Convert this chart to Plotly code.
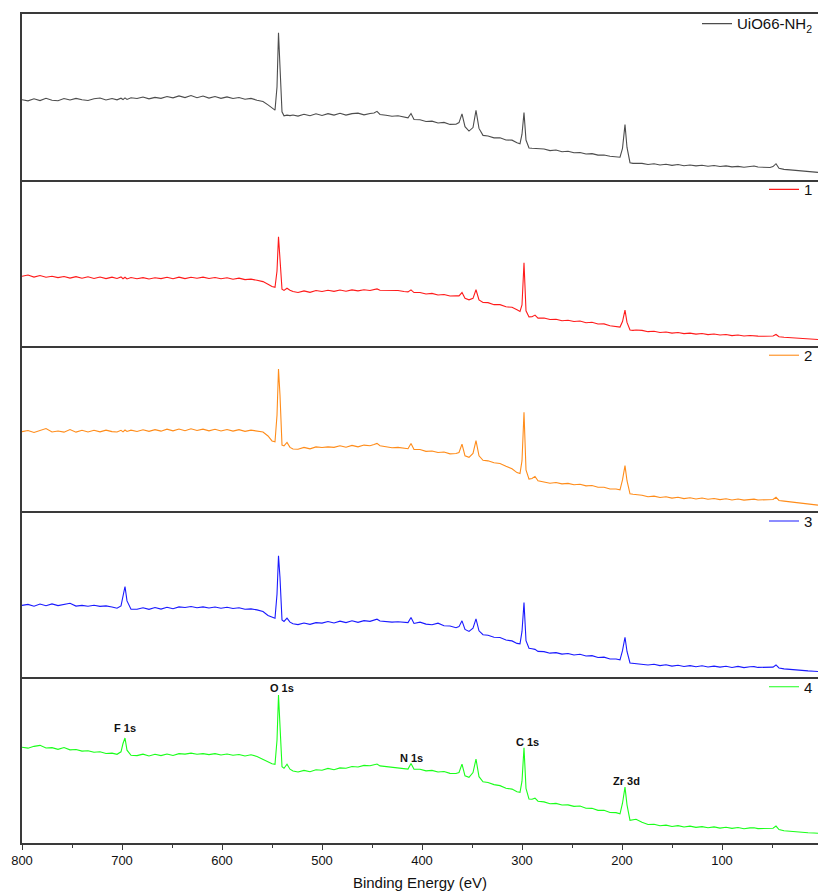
import plotly.graph_objects as go
from plotly.subplots import make_subplots

# Binding energy grid (eV), shared by all survey spectra
energy = [
    800, 794, 788, 782, 776, 770, 764, 758, 752, 746, 740, 734, 728, 722, 716, 710,
    705, 701, 699, 697, 695, 691,
    685, 679, 673, 667, 661, 655, 649, 643, 637, 631, 625, 619, 613, 607, 601, 595,
    589, 583, 577, 571, 565, 559,
    554, 550, 547, 545, 543.5, 542, 540, 538, 535, 532, 529,
    524, 518, 512, 506, 500, 494, 488, 482, 476, 470, 464, 458, 452,
    448, 445, 442,
    436, 430, 424, 418,
    414, 411, 408,
    402, 396, 390, 384, 378, 372, 366,
    363, 360, 357, 353, 349, 346, 343, 339,
    334, 328, 322, 316, 310, 305,
    302, 300, 298, 296, 293, 290, 287, 284,
    278, 272, 266, 260, 254, 248, 242, 236, 230, 224, 218, 212, 206,
    202, 199.5, 197, 195, 192, 189, 186,
    180, 174, 168, 162, 156, 150, 144, 138, 132, 126, 120, 114, 108, 102, 96, 90, 84, 78, 72,
    68, 64,
    58, 52, 49, 46, 43,
    38, 32, 26, 20, 14, 8, 4,
]

# Intensities (a.u., each spectrum on its own 0-100 scale)
uio66_nh2 = [
    48.3, 47.6, 48.9, 47.8, 49.2, 48.0, 47.7, 49.0, 48.1, 49.1, 48.3, 47.8, 48.9, 49.3, 48.1, 49.0,
    48.2, 49.2, 48.4, 49.4, 48.5, 49.5,
    49.0, 49.9, 48.8, 49.7, 49.1, 50.2, 49.4, 50.6, 49.6, 50.8, 49.5, 50.5, 49.3, 50.2, 49.1, 50.0,
    49.0, 49.6, 48.6, 49.1, 48.0, 47.2,
    45.2, 43.2, 42.0, 56.0, 88.7, 68.0, 41.0, 38.6, 39.0, 38.7, 39.1,
    38.4, 39.5, 38.6, 39.8, 38.8, 39.9, 39.0, 40.1, 39.0, 39.9, 40.2, 39.2, 40.0,
    40.3, 41.3, 39.4,
    38.9, 38.3, 38.6, 37.6,
    37.4, 40.0, 36.4,
    36.2, 35.2, 35.4, 34.3, 34.6, 33.4, 33.5,
    34.5, 39.8, 32.0, 29.4, 31.5, 41.9, 31.0, 26.8,
    26.4, 25.3, 25.3, 24.0, 23.9, 22.4,
    21.8, 27.5, 40.5, 24.0, 19.2, 19.0, 18.9, 18.5,
    18.6, 17.6, 18.0, 16.9, 17.2, 16.3, 16.5, 15.6, 15.8, 14.9, 15.0, 14.2, 13.9,
    13.6, 19.0, 33.3, 19.5, 10.3, 9.9, 9.8,
    9.9, 9.2, 9.7, 8.9, 9.4, 8.7, 9.2, 8.5, 8.9, 8.4, 8.8, 8.2, 8.6, 8.0, 8.4, 7.8, 8.1, 7.6, 7.9,
    8.3, 7.7,
    7.6, 7.4, 8.0, 9.7, 7.0,
    6.3, 6.0, 5.6, 5.3, 5.0, 4.8, 4.5,
]

sample_1 = [
    41.8, 42.6, 41.3, 42.3, 41.2, 41.8, 41.0, 41.7, 40.7, 41.6, 40.6, 41.5, 40.5, 41.4, 40.4, 41.3,
    40.5, 41.4, 40.3, 41.2, 40.2, 41.1,
    40.3, 41.0, 40.2, 40.9, 40.4, 41.2, 40.3, 41.3, 40.4, 41.2, 40.6, 41.3, 40.5, 41.1, 40.3, 40.9,
    40.0, 40.7, 39.8, 40.1, 39.4, 38.6,
    37.0, 35.6, 35.1, 45.0, 65.7, 52.0, 34.0, 33.3, 34.6, 33.4, 32.6,
    32.0, 33.0, 32.1, 33.2, 32.6, 33.4, 32.7, 33.5, 32.8, 33.6, 33.0, 33.7, 33.2,
    33.8, 34.2, 33.4,
    33.3, 32.9, 33.2, 32.6,
    32.4, 33.6, 32.0,
    32.0, 31.1, 31.5, 30.5, 30.8, 29.9, 30.0,
    30.0, 32.0, 28.5, 27.6, 28.5, 33.7, 27.5, 26.0,
    25.9, 24.7, 24.7, 23.4, 23.1, 21.6,
    20.6, 24.5, 50.0, 21.0, 17.3, 17.4, 18.4, 16.6,
    16.6, 15.7, 15.9, 15.0, 15.3, 14.5, 14.8, 13.8, 14.1, 13.0, 13.1, 12.0, 11.6,
    11.2, 14.5, 21.4, 14.0, 9.4, 9.2, 9.4,
    9.2, 8.4, 8.7, 7.9, 8.2, 7.5, 7.9, 7.2, 7.5, 6.9, 7.3, 6.6, 7.0, 6.4, 6.7, 6.0, 6.4, 5.8, 6.1,
    6.1, 5.7,
    5.6, 5.5, 5.8, 6.7, 5.3,
    5.0, 4.7, 4.4, 4.2, 4.0, 3.8, 3.7,
]

sample_2 = [
    48.1, 48.8, 47.6, 48.9, 50.0, 47.9, 48.5, 47.8, 49.4, 47.8, 48.9, 47.9, 48.9, 48.0, 49.0, 48.1,
    47.9, 48.9, 48.0, 49.1, 48.2, 49.0,
    48.2, 49.2, 48.3, 49.3, 48.4, 49.6, 48.6, 49.7, 48.7, 49.8, 48.8, 49.6, 48.6, 49.5, 48.5, 49.4,
    48.4, 49.3, 48.3, 49.0, 48.4, 47.9,
    45.5, 42.5, 42.0, 58.0, 85.9, 70.0, 40.0, 39.5, 41.6, 38.6, 37.6,
    37.5, 38.6, 37.7, 38.9, 38.5, 38.9, 38.6, 39.6, 38.7, 39.8, 38.9, 40.0, 39.6,
    40.3, 41.0, 39.6,
    39.0, 38.4, 38.6, 38.0,
    37.8, 41.0, 37.4,
    37.3, 36.2, 36.4, 35.5, 35.8, 34.7, 34.9,
    35.5, 40.6, 33.5, 32.6, 35.0, 42.7, 33.5, 30.8,
    30.5, 29.3, 28.9, 27.2, 25.7, 23.4,
    22.8, 30.6, 59.8, 25.0, 19.5, 19.8, 21.1, 18.5,
    17.9, 17.0, 17.4, 16.6, 16.9, 16.1, 16.4, 15.4, 15.6, 14.6, 14.6, 13.5, 13.5,
    13.0, 19.0, 27.6, 18.5, 10.6, 10.3, 10.1,
    9.7, 8.8, 9.2, 8.4, 8.8, 8.0, 8.5, 7.7, 8.2, 7.5, 8.1, 7.3, 7.8, 7.1, 7.6, 6.9, 7.5, 6.8, 7.2,
    7.4, 6.9,
    6.9, 6.8, 7.2, 8.5, 6.6,
    6.2, 5.7, 5.2, 4.8, 4.4, 4.0, 3.8,
]

sample_3 = [
    43.3, 43.9, 42.8, 44.1, 43.1, 44.2, 43.2, 44.0, 44.6, 42.9, 43.3, 42.8, 43.4, 42.7, 43.0, 42.3,
    41.6, 43.0, 49.0, 54.7, 46.0, 41.0,
    41.0, 41.9, 40.9, 42.0, 41.1, 42.2, 41.3, 42.4, 42.0, 42.6, 41.9, 42.4, 41.7, 42.3, 41.6, 42.2,
    41.4, 41.9, 41.0, 41.2, 40.6, 39.6,
    37.2, 36.0, 35.6, 50.0, 73.2, 60.0, 34.5, 33.6, 35.6, 33.2, 32.2,
    31.7, 32.7, 31.9, 32.9, 32.6, 33.6, 32.7, 33.8, 32.9, 34.0, 33.1, 34.1, 33.7,
    34.3, 35.0, 33.9,
    33.6, 33.2, 33.4, 33.0,
    32.9, 36.0, 32.4,
    33.2, 32.0, 31.6, 32.6, 31.0, 30.9, 29.8,
    30.5, 34.0, 28.8, 27.6, 29.5, 35.2, 28.0, 25.6,
    25.3, 24.1, 23.9, 22.4, 21.9, 20.4,
    20.1, 27.6, 45.1, 22.0, 17.5, 17.2, 16.8, 15.6,
    15.4, 14.5, 14.8, 13.9, 14.3, 13.4, 13.8, 12.8, 13.0, 11.9, 12.1, 11.0, 11.0,
    10.5, 16.0, 24.1, 15.5, 8.6, 8.4, 8.2,
    8.2, 7.4, 7.8, 7.0, 7.5, 6.7, 7.2, 6.5, 7.0, 6.3, 6.9, 6.2, 6.7, 6.1, 6.6, 5.9, 6.5, 5.8, 6.3,
    6.4, 5.9,
    5.9, 5.8, 6.1, 7.4, 5.6,
    5.0, 4.6, 4.3, 4.0, 3.8, 3.6, 3.4,
]

sample_4 = [
    57.8, 57.2, 58.3, 58.9, 57.3, 57.5, 56.5, 57.6, 56.2, 56.4, 55.4, 55.6, 54.7, 55.0, 54.0, 54.2,
    53.5, 55.0, 60.0, 63.3, 56.0, 52.9,
    52.7, 53.6, 52.5, 53.5, 52.7, 53.7, 52.8, 53.9, 53.6, 54.2, 53.5, 53.9, 53.3, 53.9, 53.1, 53.7,
    52.9, 53.4, 52.5, 53.2, 52.2, 50.5,
    49.0, 47.8, 47.5, 62.0, 89.2, 72.0, 46.0, 45.1, 47.5, 44.5, 43.4,
    42.8, 43.8, 43.0, 44.2, 43.9, 45.0, 44.2, 45.3, 45.1, 46.1, 45.8, 46.8, 46.6,
    47.2, 47.6, 46.5,
    46.1, 45.6, 45.3, 44.7,
    44.6, 48.0, 44.5,
    44.5, 43.5, 43.8, 42.8, 43.1, 42.0, 41.9,
    42.5, 47.6, 40.5, 39.6, 42.5, 50.6, 40.0, 36.9,
    36.5, 35.2, 34.6, 33.0, 32.5, 30.9,
    30.6, 37.3, 57.5, 33.0, 26.5, 26.4, 27.0, 25.2,
    24.8, 23.7, 23.9, 22.9, 23.0, 22.1, 22.3, 21.0, 20.9, 19.7, 19.7, 18.4, 18.3,
    17.6, 24.0, 33.7, 23.0, 13.7, 14.0, 14.3,
    12.5, 11.2, 11.3, 10.4, 10.8, 10.0, 10.5, 9.7, 10.2, 9.4, 9.9, 9.2, 9.7, 9.0, 9.5, 8.8, 9.3, 8.6, 9.1,
    9.2, 8.7,
    8.7, 8.6, 8.9, 10.2, 8.1,
    7.4, 7.0, 6.7, 6.4, 6.2, 6.0, 5.9,
]

series_names = ["UiO66-NH<sub>2</sub>", "1", "2", "3", "4"]
series_values = [uio66_nh2, sample_1, sample_2, sample_3, sample_4]
series_colors = ["#4d4d4d", "#ff1a1a", "#ff8c1a", "#1a1aff", "#1aff1a"]

# Core-level assignments marked on the bottom spectrum
peak_labels = ["F 1s", "O 1s", "N 1s", "C 1s", "Zr 3d"]
peak_label_energy = [697, 540.5, 411, 295, 196]
peak_label_level = [69.2, 93.7, 51.0, 61.2, 37.6]

FONT = "Liberation Sans, Arial, sans-serif"
FRAME = "#3a3a3a"

n = len(series_values)
fig = make_subplots(rows=n, cols=1, shared_xaxes=True, vertical_spacing=0)

for i, (name, vals, color) in enumerate(zip(series_names, series_values, series_colors), start=1):
    assert len(vals) == len(energy), (name, len(vals), len(energy))
    legend_id = "legend" if i == 1 else f"legend{i}"
    fig.add_trace(
        go.Scatter(x=energy, y=vals, mode="lines", name=name, showlegend=True,
                   line=dict(color=color, width=1.1), legend=legend_id),
        row=i, col=1,
    )
    fig.update_yaxes(range=[0, 100], showticklabels=False, ticks="", showgrid=False,
                     zeroline=False, showline=True, linecolor=FRAME, linewidth=1.6,
                     row=i, col=1)
    # each panel draws its own bottom edge; the top panel also closes the frame on top
    fig.update_xaxes(range=[800, 4], showgrid=False, zeroline=False, showline=True,
                     mirror=(i == 1), linecolor=FRAME, linewidth=1.6, ticks="",
                     row=i, col=1)
    top = fig.layout["yaxis" if i == 1 else f"yaxis{i}"].domain[1]
    fig.layout[legend_id] = dict(
        x=1.0, xanchor="right", y=top + 0.008, yanchor="top",
        bgcolor="rgba(0,0,0,0)", borderwidth=0,
        font=dict(family=FONT, size=15, color="#111111"),
    )

fig.update_xaxes(
    ticks="outside", ticklen=5, tickwidth=1.4, tickcolor=FRAME,
    tick0=0, dtick=100, showticklabels=True,
    tickfont=dict(family=FONT, size=13, color="#111111"),
    minor=dict(ticks="outside", dtick=50, tick0=0, ticklen=3, tickwidth=1.2, tickcolor=FRAME),
    title=dict(text="Binding Energy (eV)", font=dict(family=FONT, size=15, color="#111111"),
               standoff=10),
    row=n, col=1,
)

for label, e, lvl in zip(peak_labels, peak_label_energy, peak_label_level):
    fig.add_annotation(x=e, y=lvl, xref=f"x{n}", yref=f"y{n}", text=f"<b>{label}</b>",
                       showarrow=False, font=dict(family=FONT, size=11, color="#111111"))

fig.update_layout(
    width=818, height=892,
    margin=dict(l=22, r=0, t=14, b=49),
    paper_bgcolor="white", plot_bgcolor="white",
    font=dict(family=FONT),
    showlegend=True,
)

fig.write_html("out.html")
